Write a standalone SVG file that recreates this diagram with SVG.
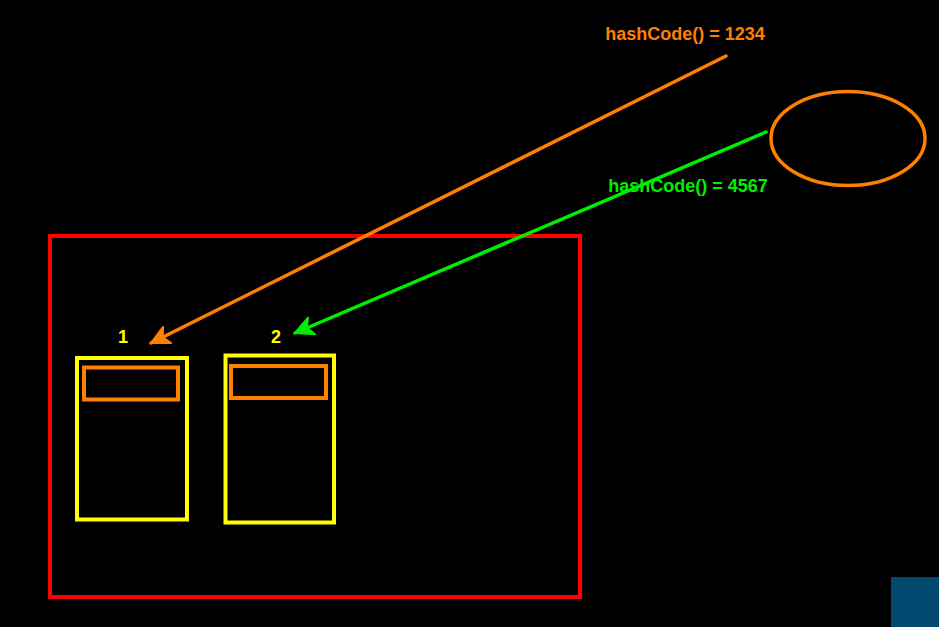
<svg xmlns="http://www.w3.org/2000/svg" width="939" height="627" viewBox="0 0 939 627">
  <style>
    .lbl { font-family: "Liberation Sans", Arial, sans-serif; font-weight: bold; font-size: 18px; }
    .box { fill: none; stroke: #ffff00; stroke-width: 4; }
    .inner { fill: none; stroke: #ff8000; stroke-width: 4; }
  </style>
  <defs>
    <marker id="ahO" markerUnits="userSpaceOnUse" markerWidth="26" markerHeight="26" refX="0" refY="0" viewBox="-22 -13 26 26" orient="auto">
      <path d="M0,0 L-18,-9 L-13,0 L-18,9 Z" fill="#ff8000" stroke="#ff8000" stroke-width="2" stroke-linejoin="round"/>
    </marker>
    <marker id="ahG" markerUnits="userSpaceOnUse" markerWidth="26" markerHeight="26" refX="0" refY="0" viewBox="-22 -13 26 26" orient="auto">
      <path d="M0,0 L-18,-9 L-13,0 L-18,9 Z" fill="#00ee00" stroke="#00ee00" stroke-width="2" stroke-linejoin="round"/>
    </marker>
  </defs>
  <rect width="939" height="627" fill="#000000"/>
  <rect x="891" y="577" width="48" height="50" fill="#004a70"/>

  <g id="container">
    <rect x="50" y="236" width="530" height="361" fill="none" stroke="#ff0000" stroke-width="4"/>
  </g>

  <g id="bucket1">
    <rect class="box" x="77" y="358" width="110" height="161.5"/>
    <rect class="inner" x="84" y="367.5" width="94" height="32"/>
    <text class="lbl" x="123" y="343" fill="#ffff00" text-anchor="middle">1</text>
  </g>

  <g id="bucket2">
    <rect class="box" x="225.5" y="355.5" width="108.5" height="167"/>
    <rect class="inner" x="231" y="366" width="95" height="32"/>
    <text class="lbl" x="276" y="343" fill="#ffff00" text-anchor="middle">2</text>
  </g>

  <g id="object">
    <ellipse cx="848" cy="138.5" rx="77" ry="47" fill="none" stroke="#ff8000" stroke-width="3.5"/>
  </g>

  <g id="label1234">
    <text class="lbl" x="685" y="40" fill="#ff8000" text-anchor="middle">hashCode() = 1234</text>
  </g>
  <g id="label4567">
    <text class="lbl" x="688" y="192" fill="#00ee00" text-anchor="middle">hashCode() = 4567</text>
  </g>

  <g id="connectors">
    <line x1="726" y1="56" x2="151" y2="343" stroke="#ff8000" stroke-width="3.5" stroke-linecap="round" marker-end="url(#ahO)"/>
    <line x1="766" y1="132" x2="295" y2="333" stroke="#00ee00" stroke-width="3.5" stroke-linecap="round" marker-end="url(#ahG)"/>
  </g>
</svg>
